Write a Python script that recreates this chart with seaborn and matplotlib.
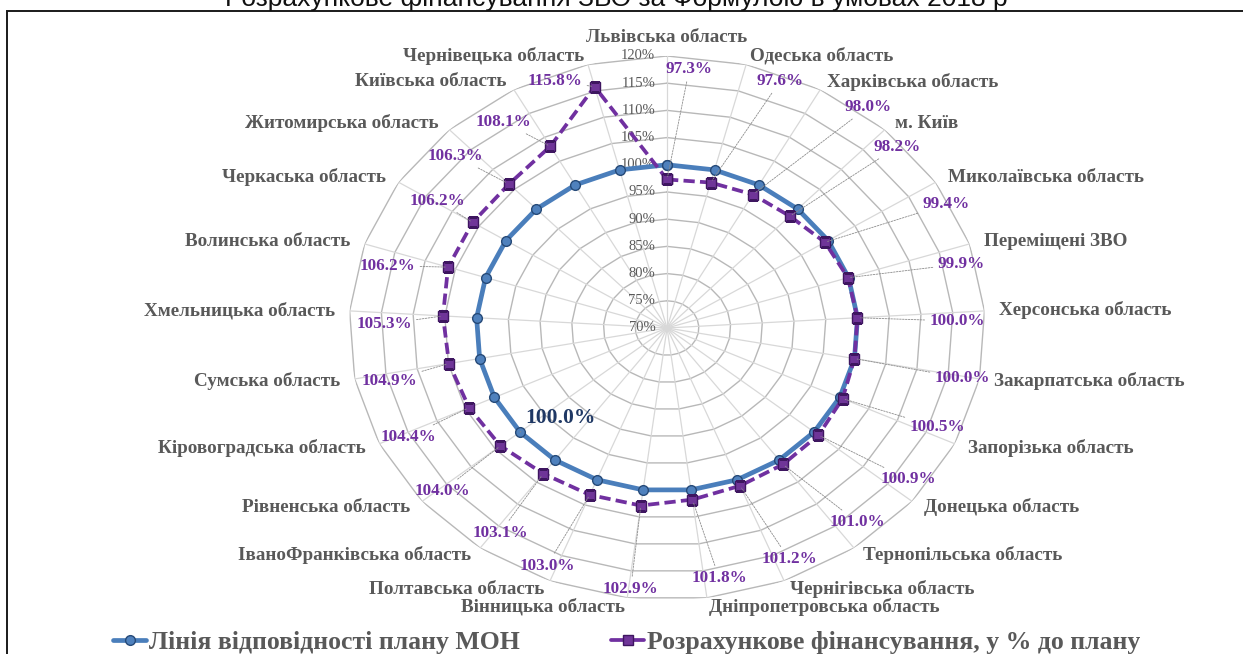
import numpy as np
import pandas as pd
import matplotlib
matplotlib.use("Agg")
import matplotlib.pyplot as plt
from matplotlib.patches import Rectangle
from matplotlib.lines import Line2D
import seaborn as sns

# ---- data -------------------------------------------------------------
regions = [
    "Львівська область", "Одеська область", "Харківська область", "м. Київ",
    "Миколаївська область", "Переміщені ЗВО", "Херсонська область",
    "Закарпатська область", "Запорізька область", "Донецька область",
    "Тернопільська область", "Чернігівська область", "Дніпропетровська область",
    "Вінницька область", "Полтавська область", "ІваноФранківська область",
    "Рівненська область", "Кіровоградська область", "Сумська область",
    "Хмельницька область", "Волинська область", "Черкаська область",
    "Житомирська область", "Київська область", "Чернівецька область",
]
funding_pct = [97.3, 97.6, 98.0, 98.2, 99.4, 99.9, 100.0, 100.0, 100.5, 100.9,
               101.0, 101.2, 101.8, 102.9, 103.0, 103.1, 104.0, 104.4, 104.9,
               105.3, 106.2, 106.2, 106.3, 108.1, 115.8]
plan_pct = [100.0] * len(regions)
r_ticks = [70, 75, 80, 85, 90, 95, 100, 105, 110, 115, 120]

title = "Розрахункове фінансування ЗВО за Формулою в умовах 2018 р"
plan_label = "Лінія відповідності плану МОН"
funding_label = "Розрахункове фінансування, у % до плану"

# ---- label layout (radius in axis units, angular nudge in degrees) ----
label_radius = [117.7, 118.8, 121.5, 119.2, 119.4, 117.7, 115.6, 117.3, 116.2,
                117.0, 116.6, 116.6, 116.7, 118.3, 117.6, 115.9, 116.4, 115.3,
                114.7, 114.5, 115.4, 113.0, 115.9, 115.8, 118.7]
label_shift = [4.2, 7.0, 9.1, 4.2, 5.0, 3.7, 2.0, 0.4, -2.0, -3.3, -4.0, -2.7,
               -2.9, -0.4, 1.8, -1.1, -0.7, -1.0, -1.7, -2.7, -3.4, 0.6, -3.3,
               -5.4, -6.8]

# ---- style ------------------------------------------------------------
sns.set_theme(style="white")
plt.rcParams["font.family"] = ["Liberation Serif", "DejaVu Serif"]

BLUE = "#4A7EBB"
BLUE_EDGE = "#264A78"
PURPLE = "#7030A0"
PURPLE_EDGE = "#3E1660"
GREY_TXT = "#595959"
RING = "#B8B8B8"
SPOKE = "#D8D8D8"

n = len(regions)
theta = np.arange(n) * 2 * np.pi / n
theta_closed = np.append(theta, 2 * np.pi)

df = pd.DataFrame({
    "theta": theta_closed,
    "plan": plan_pct + plan_pct[:1],
    "funding": funding_pct + funding_pct[:1],
})

fig = plt.figure(figsize=(12.43, 6.54), dpi=100)
ax = fig.add_axes([0.2808, 0.0826, 0.5117, 0.8318], projection="polar")
ax.set_aspect("auto")
ax.set_theta_zero_location("N")
ax.set_theta_direction(-1)
ax.set_ylim(70, 120)
ax.grid(False)
ax.spines["polar"].set_visible(False)
ax.set_xticks([])
ax.set_yticks([])
ax.set_facecolor("none")

# polygonal grid
for r in r_ticks[1:]:
    ax.plot(theta_closed, [r] * (n + 1), color=RING, lw=1.0, zorder=1)
for t in theta:
    ax.plot([t, t], [70, 120], color=SPOKE, lw=0.9, zorder=1)

# radial tick labels along the top spoke
for r in r_ticks:
    ax.annotate(f"{r}%", xy=(0, r), xytext=(-8.5, 0), textcoords="offset points",
                ha="right", va="center", fontsize=10.5, color=GREY_TXT, zorder=3)

# series
sns.lineplot(data=df, x="theta", y="plan", ax=ax, sort=False, color=BLUE,
             lw=3.4, marker="o", markersize=7, markerfacecolor="#4F81BD",
             markeredgecolor=BLUE_EDGE, markeredgewidth=1.0, zorder=4,
             label=plan_label, legend=False)
sns.lineplot(data=df, x="theta", y="funding", ax=ax, sort=False, color=PURPLE,
             lw=2.7, linestyle=(0, (3.0, 1.4)), marker="s", markersize=6.8,
             markerfacecolor="#6F3598", markeredgecolor=PURPLE_EDGE,
             markeredgewidth=1.0, zorder=5, label=funding_label, legend=False)
ax.set_xlabel("")
ax.set_ylabel("")
ax.set_ylim(70, 120)

# category labels outside the outer ring
for t, name in zip(theta, regions):
    s, c = np.sin(t), np.cos(t)
    if abs(s) < 0.05:
        ha, dx, dy = "center", 0, 13 * c
    else:
        ha = "left" if s > 0 else "right"
        dx, dy = 10.8 * s, 6.5 * c
    ax.annotate(name, xy=(t, 120), xytext=(dx, dy), textcoords="offset points",
                ha=ha, va="center", fontsize=13.8, fontweight="bold",
                color=GREY_TXT, annotation_clip=False, zorder=6)

# value labels with leader lines
for t, v, lr, sh in zip(theta, funding_pct, label_radius, label_shift):
    ax.annotate(f"{v:.1f}%", xy=(t, v), xytext=(t + np.deg2rad(sh), lr),
                textcoords="data", ha="center", va="center", fontsize=12.3,
                fontweight="bold", color=PURPLE, annotation_clip=False, zorder=7,
                arrowprops=dict(arrowstyle="-", color="#8C8C8C", lw=0.6,
                                linestyle=(0, (2, 1.5)), shrinkA=1, shrinkB=2))

# plan level label
k = regions.index("Рівненська область")
ax.annotate(f"{plan_pct[k]:.1f}%", xy=(theta[k], plan_pct[k]),
            xytext=(np.deg2rad(225.5), 93.6), textcoords="data",
            ha="center", va="center", fontsize=15.5, fontweight="bold",
            color="#1F3864", zorder=7,
            arrowprops=dict(arrowstyle="-", color="#8C8C8C", lw=0.6,
                            linestyle=(0, (2, 1.5)), shrinkA=1, shrinkB=3))

# legend
handles = [
    Line2D([], [], color=BLUE, lw=3.4, marker="o", markersize=7,
           markerfacecolor="#4F81BD", markeredgecolor=BLUE_EDGE),
    Line2D([], [], color=PURPLE, lw=2.7, marker="s", markersize=6.8,
           markerfacecolor="#6F3598", markeredgecolor=PURPLE_EDGE),
]
leg = fig.legend(handles, [plan_label, funding_label], loc="center",
                 bbox_to_anchor=(0.504, 0.018), ncol=2, frameon=False,
                 handlelength=1.3, handletextpad=0.1, columnspacing=3.55,
                 prop={"family": "Liberation Serif", "weight": "bold", "size": 18.5})
for txt in leg.get_texts():
    txt.set_color(GREY_TXT)

# outer frame and heading above it
fig.add_artist(Rectangle((7 / 1243, -0.1), 1.2, 0.1 + 1 - 11.5 / 654,
                         transform=fig.transFigure, fill=False,
                         edgecolor="#1A1A1A", lw=1.4, zorder=0))
fig.text(0.496, 1 - 6 / 654, title, ha="center", va="baseline",
         fontsize=19, family="Liberation Sans", color="#111111")

fig.savefig("out.png", dpi=100)
